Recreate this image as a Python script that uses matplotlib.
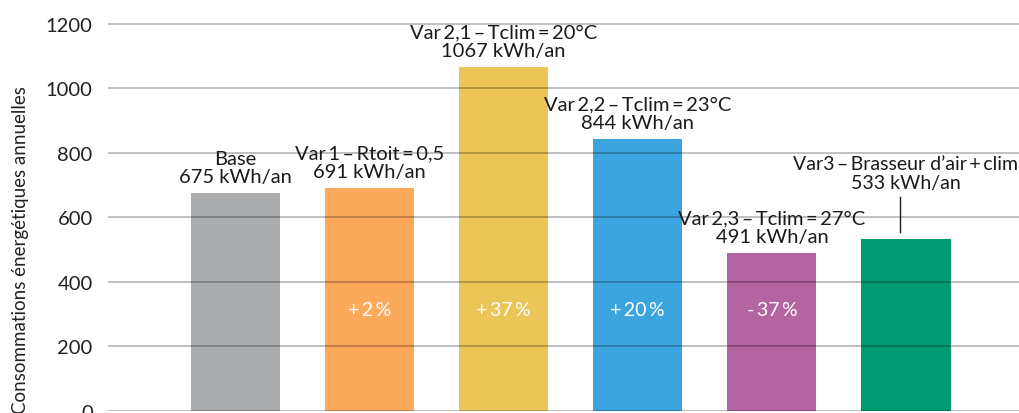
import numpy as np
import matplotlib
matplotlib.use('Agg')
import matplotlib.pyplot as plt

plt.rcParams['font.family'] = ['Lato', 'DejaVu Sans']

t = '\u2009'  # espace fine
# donnees
noms = ['Base', 'Var' + t + '1' + t + '–' + t + 'Rtoit' + t + '=' + t + '0,5',
        'Var' + t + '2,1' + t + '–' + t + 'Tclim' + t + '=' + t + '20°C',
        'Var' + t + '2,2' + t + '–' + t + 'Tclim' + t + '=' + t + '23°C',
        'Var' + t + '2,3' + t + '–' + t + 'Tclim' + t + '=' + t + '27°C',
        'Var3' + t + '–' + t + 'Brasseur d’air' + t + '+' + t + 'clim']
conso = [675, 691, 1067, 844, 491, 533]
pourcent = ['', '+' + t + '2' + t + '%', '+' + t + '37' + t + '%', '+' + t + '20' + t + '%',
            '-' + t + '37' + t + '%', '']
couleurs = ['#ABACAE', '#FDA95C', '#EBC557', '#3CA5DF', '#B564A2', '#009B72']

fig = plt.figure(figsize=(10.2, 4.14), dpi=100)
ax = fig.add_axes([108/1020, 2/414, 1 - 108/1020, 412/414])

x = np.arange(len(conso))
ax.bar(x, conso, width=0.665, color=couleurs, zorder=1)

# grille par dessus les barres
for yy in range(0, 1201, 200):
    ax.axhline(yy, color='black', alpha=0.25, lw=1.4, zorder=3)

ax.set_xlim(-0.95, 5.85)
ax.set_ylim(0, 1277)
ax.set_yticks(range(0, 1201, 200))
ax.set_xticks([])
ax.tick_params(axis='y', length=0, pad=11, labelsize=14.5, labelcolor='#222222')
for s in ax.spines.values():
    s.set_visible(False)

# etiquettes au dessus des barres
for i in range(len(conso)):
    label = noms[i] + '\n' + '%d kWh/an' % conso[i]
    if i == 5:
        ax.text(x[i], conso[i] + 149, label, ha='center', va='bottom', fontsize=14,
                color='#1a1a1a', linespacing=1.15, zorder=5)
        ax.plot([x[i] - 0.045, x[i] - 0.045], [conso[i] + 22, conso[i] + 131],
                color='#1a1a1a', lw=1.0, zorder=5)
    else:
        ax.text(x[i], conso[i] + 25, label, ha='center', va='bottom', fontsize=14.5,
                color='#1a1a1a', linespacing=1.1, zorder=5)
    if pourcent[i]:
        ax.text(x[i], 316, pourcent[i], ha='center', va='center', fontsize=14,
                color='white', zorder=5)

fig.text(21/1020, 1 - 250/414, 'Consommations énergétiques annuelles', rotation=90,
         ha='center', va='center', fontsize=13.5, color='#222222')

fig.savefig('out.png', dpi=100)
